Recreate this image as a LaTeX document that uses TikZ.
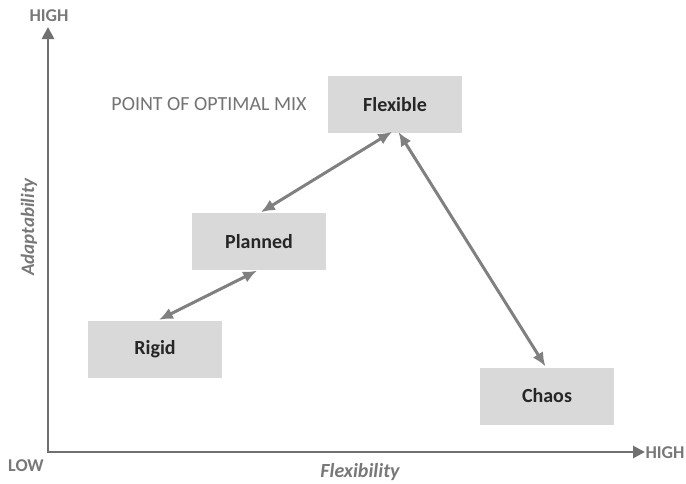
\documentclass[tikz,border=0pt]{standalone}
\usepackage{fontspec}
\setmainfont{Carlito}
\usetikzlibrary{arrows.meta}
\definecolor{boxfill}{RGB}{217,217,217}
\definecolor{arrowgray}{RGB}{128,128,128}
\definecolor{axisgray}{RGB}{112,112,112}
\definecolor{labelgray}{RGB}{120,120,120}
\begin{document}
\begin{tikzpicture}[x=1pt,y=-1pt,
  box/.style={fill=boxfill,minimum width=134pt,minimum height=57pt,inner sep=0pt,font=\fontsize{20}{24}\selectfont\bfseries,text=black!85},
  link/.style={draw=arrowgray,line width=3pt,{Latex[length=14pt,width=12pt]}-{Latex[length=14pt,width=12pt]},shorten <=1pt,shorten >=1pt},
  axis/.style={draw=axisgray,line width=2.8pt,-{Triangle[length=12pt,width=12pt]}},
  axlabel/.style={text=labelgray,font=\fontsize{18}{21}\selectfont\bfseries,inner sep=0pt}]
\useasboundingbox (0,0) rectangle (686,483);
\coordinate (origin) at (48,452);
\coordinate (ytop) at (48,27);
\coordinate (xend) at (645,452);
\draw[axis] (origin) -- (ytop);
\draw[axis] ([xshift=-1.4pt]origin) -- (xend);
\node[axlabel] (yhigh) at (49,16) {HIGH};
\node[axlabel] (xhigh) at (665,453) {HIGH};
\node[axlabel] (low) at (26,466) {LOW};
\node[axlabel,font=\fontsize{20}{24}\selectfont\bfseries\itshape] (flexlab) at (360,472) {Flexibility};
\node[axlabel,font=\fontsize{19}{22}\selectfont\bfseries\itshape,rotate=90] (adaptlab) at (29,227) {Adaptability};
\node[axlabel,font=\fontsize{20}{24}\selectfont,text=black!55] (optimal) at (209,104) {POINT OF OPTIMAL MIX};
\node[box] (flexible) at (395,104.5) {Flexible};
\node[box] (planned) at (259,241.5) {Planned};
\node[box] (rigid) at (155,349) {Rigid};
\node[box] (chaos) at (547,396) {Chaos};
\draw[link] ([xshift=1pt]planned.north) -- ([xshift=-2pt,yshift=2pt]flexible.south);
\draw[link] ([xshift=3pt]rigid.north) -- ([xshift=-1pt]planned.south);
\draw[link] ([xshift=3pt,yshift=2pt]flexible.south) -- ([xshift=-1pt]chaos.north);
\end{tikzpicture}
\end{document}
